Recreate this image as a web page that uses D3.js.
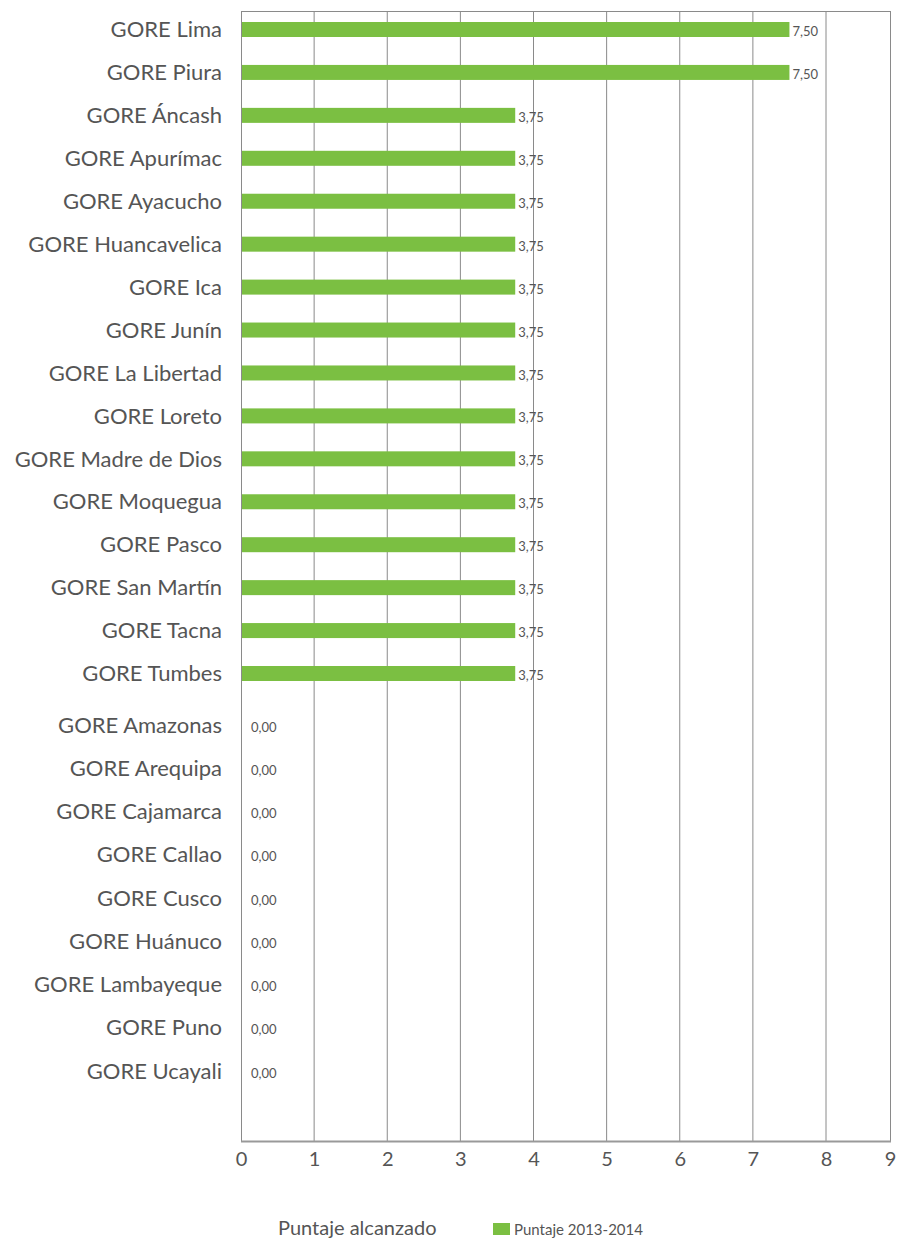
<!DOCTYPE html>
<html>
<head>
<meta charset="utf-8">
<script src="https://cdn.jsdelivr.net/npm/d3@7"></script>
<style>
    body { margin: 0; background: #fff; }
    svg text { font-family: Lato, "Open Sans", sans-serif; fill: #555; }
</style>
</head>
<body>
<svg id="chart" width="898" height="1242"></svg>
<script>
// ----- data
var scoredRegions = ["GORE Lima", "GORE Piura", "GORE Áncash", "GORE Apurímac", "GORE Ayacucho",
    "GORE Huancavelica", "GORE Ica", "GORE Junín", "GORE La Libertad", "GORE Loreto",
    "GORE Madre de Dios", "GORE Moquegua", "GORE Pasco", "GORE San Martín", "GORE Tacna", "GORE Tumbes"];
var scoredValues = [7.5, 7.5, 3.75, 3.75, 3.75, 3.75, 3.75, 3.75, 3.75, 3.75, 3.75, 3.75, 3.75, 3.75, 3.75, 3.75];

var zeroRegions = ["GORE Amazonas", "GORE Arequipa", "GORE Cajamarca", "GORE Callao", "GORE Cusco",
    "GORE Huánuco", "GORE Lambayeque", "GORE Puno", "GORE Ucayali"];
var zeroValues = [0, 0, 0, 0, 0, 0, 0, 0, 0];

var xTicks = [0, 1, 2, 3, 4, 5, 6, 7, 8, 9];
var axisTitle = "Puntaje alcanzado";
var seriesName = "Puntaje 2013-2014";

drawChart();

function drawChart() {
    var svg = d3.select("#chart");
    var left = 241, right = 890, top = 11, bottom = 1141;
    var green = "#7bbf42";
    var barH = 15;

    // original grid is slightly uneven: last column is narrower
    var x = d3.scaleLinear().domain([0, 8, 9]).range([left, 826, right]);

    var yTop = d3.scalePoint().domain(scoredRegions).range([29.5, 673.5]);
    var yBottom = d3.scalePoint().domain(zeroRegions).range([725, 1071]);

    var rows = scoredRegions.map(function (name, i) {
        return { name: name, value: scoredValues[i], y: yTop(name) };
    }).concat(zeroRegions.map(function (name, i) {
        return { name: name, value: zeroValues[i], y: yBottom(name) };
    }));

    // grid lines
    svg.append("g")
        .selectAll("line")
        .data(xTicks.slice(1, -1))
        .enter().append("line")
        .attr("x1", function (d) { return x(d); })
        .attr("x2", function (d) { return x(d); })
        .attr("y1", top)
        .attr("y2", bottom)
        .attr("stroke", "#8a8a8a")
        .attr("stroke-width", 1);

    // plot frame
    svg.append("rect")
        .attr("x", left + 0.5)
        .attr("y", top + 0.5)
        .attr("width", right - left)
        .attr("height", bottom - top)
        .attr("fill", "none")
        .attr("stroke", "#8a8a8a")
        .attr("stroke-width", 1);

    svg.append("line")
        .attr("x1", left).attr("x2", right + 1)
        .attr("y1", bottom + 0.5).attr("y2", bottom + 0.5)
        .attr("stroke", "#999")
        .attr("stroke-width", 2);

    // bars
    svg.append("g")
        .selectAll("rect")
        .data(rows.filter(function (d) { return d.value > 0; }))
        .enter().append("rect")
        .attr("x", x(0) + 1)
        .attr("y", function (d) { return d.y - barH / 2; })
        .attr("width", function (d) { return x(d.value) - x(0) - 1; })
        .attr("height", barH)
        .attr("fill", green);

    // value labels
    svg.append("g")
        .selectAll("text")
        .data(rows)
        .enter().append("text")
        .attr("x", function (d) { return x(d.value) + (d.value > 0 ? 3 : 10); })
        .attr("y", function (d) { return d.y + 2; })
        .attr("dy", "0.35em")
        .style("font-size", "13px")
        .text(function (d) { return d3.format(".2f")(d.value).replace(".", ","); });

    // category labels
    svg.append("g")
        .selectAll("text")
        .data(rows)
        .enter().append("text")
        .attr("x", 222)
        .attr("y", function (d) { return d.y; })
        .attr("dy", "0.35em")
        .attr("text-anchor", "end")
        .style("font-size", "22px")
        .text(function (d) { return d.name; });

    // x axis tick labels
    var xAxis = svg.append("g")
        .attr("transform", "translate(0," + bottom + ")")
        .call(d3.axisBottom(x).tickValues(xTicks).tickSize(0).tickPadding(11).tickFormat(d3.format("d")));
    xAxis.select(".domain").remove();
    xAxis.selectAll("text")
        .style("font-size", "20px")
        .style("font-family", "Lato, sans-serif")
        .attr("fill", "#555");

    // axis title
    svg.append("text")
        .attr("x", 278)
        .attr("y", 1235)
        .style("font-size", "20px")
        .text(axisTitle);

    // legend
    svg.append("rect")
        .attr("x", 493)
        .attr("y", 1223)
        .attr("width", 17)
        .attr("height", 12)
        .attr("fill", green);
    svg.append("text")
        .attr("x", 514)
        .attr("y", 1235)
        .style("font-size", "15px")
        .text(seriesName);
}
</script>
</body>
</html>
